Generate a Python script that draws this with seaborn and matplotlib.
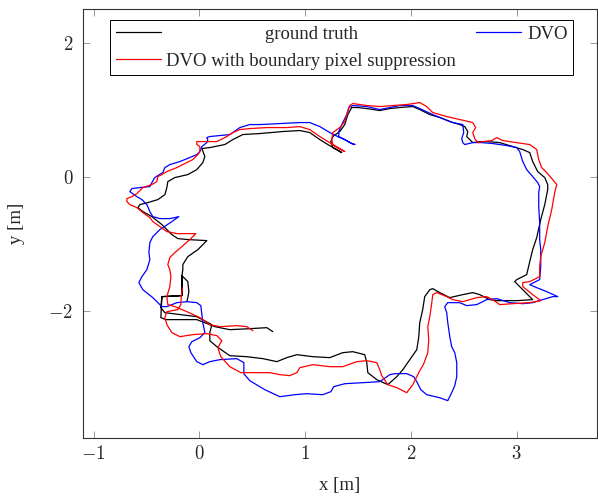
import matplotlib
matplotlib.use("Agg")
import matplotlib.pyplot as plt
import matplotlib.ticker as mticker
import matplotlib.transforms as mtransforms
import pandas as pd
import seaborn as sns

# ground truth trajectory (metres)
gt_x = [-0.118, -0.109, -0.099, -0.109, -0.165, -0.165, -0.354, -0.364, -0.326, -0.024,
        0.118, 0.099, 0.099, 0.165, 0.288, 0.449, 0.600, 0.733, 0.827, 0.922,
        1.073, 1.233, 1.356, 1.451, 1.564, 1.583, 1.593, 1.678, 1.782, 1.867,
        1.924, 1.990, 2.056, 2.075, 2.084, 2.112, 2.131, 2.179, 2.207, 2.273,
        2.368, 2.491, 2.585, 2.651, 2.746, 2.812, 3.001, 3.152, 3.058, 2.982,
        3.001, 3.095, 3.124, 3.152, 3.190, 3.228, 3.266, 3.294, 3.294, 3.266,
        3.199, 3.152, 3.124, 3.058, 2.963, 2.840, 2.717, 2.651, 2.585, 2.557,
        2.528, 2.538, 2.509, 2.462, 2.368, 2.273, 2.179, 2.084, 2.018, 1.895,
        1.801, 1.706, 1.583, 1.498, 1.441, 1.404, 1.375, 1.328, 1.262, 1.243,
        1.262, 1.347, 1.281, 1.215, 1.139, 1.044, 0.950, 0.789, 0.572, 0.411,
        0.317, 0.241, 0.099, 0.024, 0.052, 0.033, -0.024, -0.109, -0.232, -0.298,
        -0.307, -0.326, -0.392, -0.487, -0.562, -0.581, -0.534, -0.449, -0.354, -0.260,
        -0.203, -0.109, 0.071, -0.014, -0.109, -0.156, -0.156, -0.165, -0.165, -0.354,
        -0.364, -0.317, -0.024, 0.147, 0.288, 0.477, 0.638, 0.695]
gt_y = [-1.866, -1.806, -1.716, -1.567, -1.478, -1.776, -1.791, -1.955, -2.030, -2.090,
        -2.209, -2.328, -2.448, -2.537, -2.672, -2.687, -2.716, -2.761, -2.701, -2.657,
        -2.687, -2.701, -2.627, -2.612, -2.657, -2.776, -2.925, -3.030, -3.104, -2.985,
        -2.881, -2.731, -2.582, -2.388, -2.179, -1.985, -1.791, -1.687, -1.672, -1.731,
        -1.806, -1.761, -1.731, -1.761, -1.836, -1.851, -1.851, -1.836, -1.687, -1.567,
        -1.537, -1.463, -1.269, -1.090, -0.910, -0.642, -0.418, -0.194, -0.119, -0.015,
        0.075, 0.224, 0.358, 0.403, 0.448, 0.507, 0.522, 0.522, 0.507, 0.552,
        0.597, 0.672, 0.746, 0.776, 0.821, 0.881, 0.925, 1.000, 1.045, 1.030,
        1.015, 0.985, 1.015, 1.030, 1.030, 0.925, 0.776, 0.672, 0.597, 0.522,
        0.433, 0.358, 0.418, 0.478, 0.552, 0.657, 0.687, 0.672, 0.642, 0.627,
        0.552, 0.478, 0.433, 0.418, 0.299, 0.209, 0.104, 0.030, -0.015, -0.075,
        -0.164, -0.269, -0.343, -0.388, -0.418, -0.463, -0.522, -0.597, -0.716, -0.866,
        -0.925, -0.940, -0.955, -1.090, -1.194, -1.313, -1.388, -1.478, -1.776, -1.791,
        -2.104, -2.134, -2.134, -2.239, -2.284, -2.269, -2.254, -2.313]

# DVO trajectory
dvo_x = [1.470, 1.441, 1.375, 1.309, 1.233, 1.139, 1.044, 0.950, 0.761, 0.572,
         0.477, 0.383, 0.317, 0.288, 0.194, 0.099, 0.071, 0.080, 0.071, 0.024,
         0.005, -0.024, -0.090, -0.184, -0.279, -0.326, -0.345, -0.392, -0.421, -0.449,
         -0.468, -0.562, -0.638, -0.657, -0.591, -0.543, -0.496, -0.468, -0.440, -0.373,
         -0.279, -0.232, -0.194, -0.260, -0.373, -0.440, -0.468, -0.477, -0.468, -0.496,
         -0.543, -0.572, -0.534, -0.440, -0.354, -0.307, -0.213, -0.118, -0.024, 0.014,
         0.024, 0.033, 0.052, 0.005, -0.071, -0.099, -0.080, -0.024, 0.033, 0.099,
         0.194, 0.354, 0.421, 0.421, 0.477, 0.619, 0.761, 0.903, 1.016, 1.167,
         1.243, 1.271, 1.375, 1.545, 1.706, 1.801, 1.848, 1.961, 2.027, 2.056,
         2.094, 2.150, 2.273, 2.349, 2.386, 2.415, 2.434, 2.434, 2.415, 2.386,
         2.368, 2.349, 2.339, 2.320, 2.349, 2.462, 2.528, 2.623, 2.717, 2.812,
         2.935, 3.058, 3.152, 3.247, 3.341, 3.389, 3.284, 3.190, 3.124, 3.218,
         3.228, 3.228, 3.218, 3.218, 3.209, 3.209, 3.218, 3.199, 3.152, 3.095,
         3.058, 3.029, 3.001, 2.906, 2.774, 2.670, 2.585, 2.509, 2.491, 2.481,
         2.500, 2.491, 2.396, 2.302, 2.207, 2.084, 2.018, 1.895, 1.801, 1.706,
         1.583, 1.451, 1.413, 1.394, 1.356, 1.318, 1.318, 1.356, 1.441, 1.470]
dvo_y = [0.478, 0.493, 0.552, 0.597, 0.657, 0.746, 0.806, 0.806, 0.791, 0.776,
         0.776, 0.731, 0.657, 0.627, 0.612, 0.597, 0.582, 0.552, 0.507, 0.448,
         0.373, 0.328, 0.284, 0.224, 0.179, 0.134, 0.060, 0.015, -0.015, -0.090,
         -0.149, -0.164, -0.179, -0.224, -0.299, -0.343, -0.418, -0.522, -0.597, -0.627,
         -0.627, -0.612, -0.597, -0.672, -0.791, -0.896, -0.985, -1.134, -1.239, -1.388,
         -1.493, -1.582, -1.687, -1.806, -1.940, -1.940, -1.881, -1.866, -1.881, -1.925,
         -2.060, -2.179, -2.328, -2.403, -2.463, -2.537, -2.627, -2.761, -2.806, -2.761,
         -2.731, -2.716, -2.776, -2.940, -3.045, -3.179, -3.284, -3.254, -3.239, -3.254,
         -3.209, -3.134, -3.090, -3.075, -3.060, -2.955, -2.940, -2.940, -2.985, -3.060,
         -3.179, -3.254, -3.299, -3.343, -3.224, -3.119, -2.985, -2.776, -2.627, -2.537,
         -2.388, -2.179, -2.030, -1.940, -1.881, -1.881, -1.925, -1.910, -1.836, -1.821,
         -1.881, -1.896, -1.881, -1.836, -1.791, -1.791, -1.716, -1.657, -1.612, -1.537,
         -1.343, -1.090, -0.940, -0.687, -0.448, -0.239, -0.149, -0.090, 0.000, 0.104,
         0.224, 0.373, 0.433, 0.463, 0.493, 0.507, 0.507, 0.478, 0.507, 0.567,
         0.657, 0.776, 0.806, 0.866, 0.925, 1.015, 1.060, 1.060, 1.030, 1.000,
         1.045, 1.060, 1.030, 0.925, 0.806, 0.672, 0.597, 0.567, 0.493, 0.478]

# DVO with boundary pixel suppression trajectory
bps_x = [-0.159, -0.170, -0.175, -0.203, -0.307, -0.326, -0.307, -0.260, -0.184, -0.061,
         0.071, 0.165, 0.213, 0.175, 0.203, 0.288, 0.392, 0.572, 0.666, 0.761,
         0.855, 0.922, 0.950, 1.073, 1.233, 1.356, 1.489, 1.583, 1.678, 1.706,
         1.725, 1.782, 1.867, 1.961, 2.018, 2.075, 2.122, 2.160, 2.169, 2.160,
         2.179, 2.198, 2.207, 2.245, 2.339, 2.396, 2.491, 2.623, 2.717, 2.774,
         2.840, 2.963, 3.124, 3.228, 3.152, 3.058, 3.058, 3.124, 3.218, 3.218,
         3.228, 3.266, 3.294, 3.332, 3.360, 3.379, 3.341, 3.284, 3.237, 3.209,
         3.190, 3.124, 3.001, 2.869, 2.812, 2.765, 2.679, 2.632, 2.604, 2.585,
         2.613, 2.585, 2.462, 2.339, 2.207, 2.150, 2.084, 1.961, 1.829, 1.706,
         1.583, 1.451, 1.422, 1.404, 1.375, 1.328, 1.262, 1.252, 1.262, 1.328,
         1.375, 1.300, 1.233, 1.139, 1.044, 0.950, 0.827, 0.638, 0.477, 0.383,
         0.317, 0.260, 0.222, 0.165, 0.033, -0.024, -0.024, 0.005, 0.005, -0.014,
         -0.061, -0.156, -0.213, -0.307, -0.354, -0.392, -0.402, -0.449, -0.534, -0.591,
         -0.638, -0.685, -0.685, -0.657, -0.591, -0.534, -0.468, -0.440, -0.373, -0.307,
         -0.213, -0.118, -0.033, -0.090, -0.165, -0.232, -0.279, -0.298, -0.279, -0.269,
         -0.279, -0.307, -0.298, -0.232, -0.118, 0.005, 0.099, 0.194, 0.354, 0.449,
         0.506]
bps_y = [-1.657, -1.776, -1.910, -1.985, -2.015, -2.104, -2.209, -2.328, -2.388, -2.358,
         -2.343, -2.373, -2.448, -2.552, -2.687, -2.836, -2.925, -2.925, -2.925, -2.955,
         -2.970, -2.925, -2.851, -2.806, -2.836, -2.836, -2.761, -2.746, -2.776, -2.881,
         -2.970, -3.104, -3.149, -3.224, -3.104, -2.925, -2.791, -2.627, -2.433, -2.239,
         -2.090, -1.881, -1.761, -1.731, -1.791, -1.836, -1.866, -1.806, -1.791, -1.836,
         -1.910, -1.896, -1.881, -1.851, -1.761, -1.642, -1.582, -1.567, -1.493, -1.343,
         -1.194, -0.985, -0.746, -0.493, -0.239, -0.119, -0.045, 0.060, 0.134, 0.254,
         0.403, 0.478, 0.507, 0.537, 0.582, 0.537, 0.522, 0.507, 0.567, 0.657,
         0.731, 0.806, 0.851, 0.896, 0.955, 1.045, 1.104, 1.075, 1.060, 1.045,
         1.060, 1.090, 1.060, 0.970, 0.821, 0.731, 0.657, 0.552, 0.478, 0.418,
         0.373, 0.433, 0.507, 0.597, 0.701, 0.746, 0.731, 0.731, 0.716, 0.701,
         0.657, 0.597, 0.567, 0.522, 0.522, 0.522, 0.478, 0.448, 0.373, 0.328,
         0.254, 0.179, 0.134, 0.075, 0.030, 0.000, -0.075, -0.119, -0.164, -0.254,
         -0.299, -0.328, -0.373, -0.418, -0.463, -0.537, -0.612, -0.672, -0.746, -0.821,
         -0.851, -0.851, -0.851, -0.940, -1.045, -1.134, -1.209, -1.313, -1.388, -1.493,
         -1.642, -1.791, -1.910, -1.940, -2.015, -2.104, -2.209, -2.239, -2.224, -2.239,
         -2.299]

x_ticks = [-1, 0, 1, 2, 3]
y_ticks = [-2, 0, 2]

sns.set_style("ticks")
plt.rcParams['font.family'] = ['Liberation Serif', 'DejaVu Serif']
plt.rcParams['mathtext.fontset'] = 'cm'
FS = 13.5

fig = plt.figure(figsize=(5.98, 4.97), dpi=100)
ax = fig.add_axes([83 / 598, 1 - 438 / 497, 514 / 598, 429 / 497])

series = [("ground truth", gt_x, gt_y, "black"),
          ("DVO", dvo_x, dvo_y, "blue"),
          ("DVO with boundary pixel suppression", bps_x, bps_y, "red")]
for name, xs, ys, col in series:
    df = pd.DataFrame({"x": xs, "y": ys})
    sns.lineplot(data=df, x="x", y="y", sort=False, estimator=None,
                 color=col, lw=0.9, label=name, ax=ax, legend=False)

ax.set_xlim(-1.1, 3.76)
ax.set_ylim(-3.9, 2.5)
ax.set_xticks(x_ticks)
ax.set_yticks(y_ticks)
fmt = mticker.FuncFormatter(lambda v, p: f"${v:g}$")
ax.xaxis.set_major_formatter(fmt)
ax.yaxis.set_major_formatter(fmt)
ax.tick_params(direction="in", length=5, width=0.6, color="#888888",
               top=True, right=True, labelsize=FS)
ax.tick_params(axis="x", pad=5)
ax.tick_params(axis="y", pad=7)
for s in ax.spines.values():
    s.set_color("#333333")
    s.set_linewidth(0.8)

ax.set_xlabel("x [m]", fontsize=FS)
ax.set_ylabel("y [m]", fontsize=FS)
ax.xaxis.set_label_coords(0.5, -0.091)
ax.yaxis.set_label_coords(-0.113, 0.5)

h, l = ax.get_legend_handles_labels()
order = [0, 2, 1]
leg = ax.legend([h[i] for i in order], [l[i] for i in order], ncol=2, mode="expand",
                loc="upper left", bbox_to_anchor=(0.0525, 0.846, 0.901, 0.128),
                fontsize=FS, frameon=True, fancybox=False, edgecolor="black",
                framealpha=1, borderpad=0.3, labelspacing=0.52, handlelength=2.4,
                handletextpad=0.3, borderaxespad=0)
leg.get_frame().set_linewidth(0.7)

# centre "ground truth" within its column, like the original legend
fig.canvas.draw()
r = fig.canvas.get_renderer()
w_gt = leg.texts[0].get_window_extent(r).width
w_long = leg.texts[1].get_window_extent(r).width
t = leg.texts[0]
t.set_transform(t.get_transform() + mtransforms.Affine2D().translate((w_long - w_gt) / 2, 0))

fig.savefig("out.png", dpi=100)
